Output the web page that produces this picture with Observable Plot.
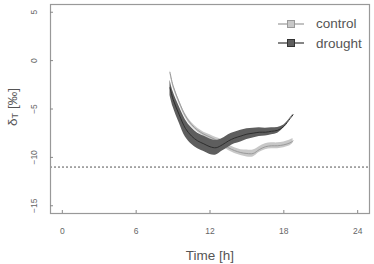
<!DOCTYPE html>
<html>
<head>
<meta charset="utf-8">
<script src="https://cdn.jsdelivr.net/npm/d3@7"></script>
<script src="https://cdn.jsdelivr.net/npm/@observablehq/plot@0.6"></script>
<style>
  html, body { margin: 0; padding: 0; background: #fff; }
  #wrap { position: relative; width: 374px; height: 264px; font-family: "Liberation Sans", Arial, sans-serif; }
  .leg { position: absolute; left: 278px; display: flex; align-items: center; font-size: 13.5px; color: #555; }
  .leg svg { margin-right: 12px; }
</style>
</head>
<body>
<div id="wrap"></div>
<script>
// Hours of day
const hours = [8.75, 9.0, 9.5, 10, 10.5, 11, 11.5, 12, 12.5, 13, 13.5, 14, 14.5, 15, 15.5, 16, 16.5, 17, 17.5, 18, 18.5, 18.75];
// control: mean and half-width of band
const controlMean = [-1.2, -2.6, -4.3, -5.7, -6.6, -7.2, -7.6, -7.9, -8.2, -8.5, -9.0, -9.3, -9.5, -9.6, -9.6, -9.2, -8.9, -8.8, -8.8, -8.7, -8.5, -8.3];
const controlErr  = [0.15, 0.2, 0.2, 0.2, 0.2, 0.2, 0.2, 0.25, 0.25, 0.3, 0.3, 0.3, 0.3, 0.35, 0.35, 0.3, 0.3, 0.3, 0.3, 0.3, 0.3, 0.25];
// drought
const droughtMean = [-2.8, -4.0, -5.6, -7.0, -7.8, -8.3, -8.6, -8.9, -9.0, -8.7, -8.3, -8.0, -7.8, -7.6, -7.5, -7.4, -7.4, -7.3, -7.2, -6.8, -6.0, -5.6];
const droughtErr  = [0.8, 0.8, 0.85, 0.9, 0.85, 0.8, 0.8, 0.8, 0.75, 0.65, 0.65, 0.6, 0.6, 0.55, 0.5, 0.45, 0.4, 0.35, 0.3, 0.15, 0.05, 0.05];
const referenceLevel = -11;
const xTicks = [0, 6, 12, 18, 24];
const yTicks = [-15, -10, -5, 0, 5];
const seriesNames = ["control", "drought"];
const bandColors = ["#c8c8c8", "#5e5e5e"];
const lineColors = ["#9a9a9a", "#2e2e2e"];
const legendStroke = ["#999", "#333"];

const control = hours.map((h, i) => ({h, m: controlMean[i], lo: controlMean[i] - controlErr[i], hi: controlMean[i] + controlErr[i]}));
const drought = hours.map((h, i) => ({h, m: droughtMean[i], lo: droughtMean[i] - droughtErr[i], hi: droughtMean[i] + droughtErr[i]}));

const font = "Liberation Sans, Arial, sans-serif";
const plot = Plot.plot({
  width: 374,
  height: 264,
  marginLeft: 50,
  marginRight: 5,
  marginTop: 4,
  marginBottom: 51,
  style: {fontFamily: font, background: "#fff"},
  x: {domain: [-0.96, 24.96]},
  y: {domain: [-15.8, 5.8]},
  marks: [
    Plot.areaY(control, {x: "h", y1: "lo", y2: "hi", fill: bandColors[0], curve: "catmull-rom"}),
    Plot.lineY(control, {x: "h", y: "m", stroke: lineColors[0], strokeWidth: 1, curve: "catmull-rom"}),
    Plot.areaY(drought, {x: "h", y1: "lo", y2: "hi", fill: bandColors[1], curve: "catmull-rom"}),
    Plot.lineY(drought, {x: "h", y: "m", stroke: lineColors[1], strokeWidth: 1, curve: "catmull-rom"}),
    Plot.ruleY([referenceLevel], {stroke: "#555", strokeDasharray: "2,2", strokeWidth: 1}),
    Plot.frame({stroke: "#999", strokeWidth: 1.2}),
    Plot.axisX(xTicks, {tickSize: -3, text: null, stroke: "#888", label: null}),
    Plot.axisX(xTicks, {tickSize: 0, tickPadding: 14, fontSize: 8.5, fill: "#666", label: null}),
    Plot.axisY(yTicks, {tickSize: -3, text: null, stroke: "#888", label: null}),
    Plot.axisY(yTicks, {tickSize: 0, tickPadding: 14, tickRotate: -90, fontSize: 8.5, fill: "#666", label: null,
      tickFormat: d => (d < 0 ? "\u2212" + Math.abs(d) : String(d))})
  ]
});

const wrap = document.getElementById("wrap");
wrap.appendChild(plot);

const svg = d3.select(plot);
// x title
svg.append("text")
  .attr("x", 210).attr("y", 256)
  .attr("text-anchor", "middle").attr("dominant-baseline", "middle")
  .attr("font-size", 13.5).attr("fill", "#555").attr("font-family", font)
  .text("Time [h]");
// y title with subscript
const yt = svg.append("text")
  .attr("transform", "translate(13,107) rotate(-90)")
  .attr("text-anchor", "middle").attr("dominant-baseline", "middle")
  .attr("font-size", 13.5).attr("fill", "#555").attr("font-family", font);
yt.append("tspan").text("δ");
yt.append("tspan").attr("font-size", 9).attr("dy", 3).text("T");
yt.append("tspan").attr("dy", -3).text(" [‰]");

// legend
seriesNames.forEach((name, i) => {
  const div = document.createElement("div");
  div.className = "leg";
  div.style.top = (15.5 + i * 19.6) + "px";
  div.innerHTML = `<svg width="26" height="16"><line x1="0" x2="26" y1="8" y2="8" stroke="${legendStroke[i]}" stroke-width="1.2"/><rect x="9.5" y="4.5" width="7" height="7" fill="${bandColors[i]}" stroke="${legendStroke[i]}"/></svg><span>${name}</span>`;
  wrap.appendChild(div);
});
</script>
</body>
</html>
